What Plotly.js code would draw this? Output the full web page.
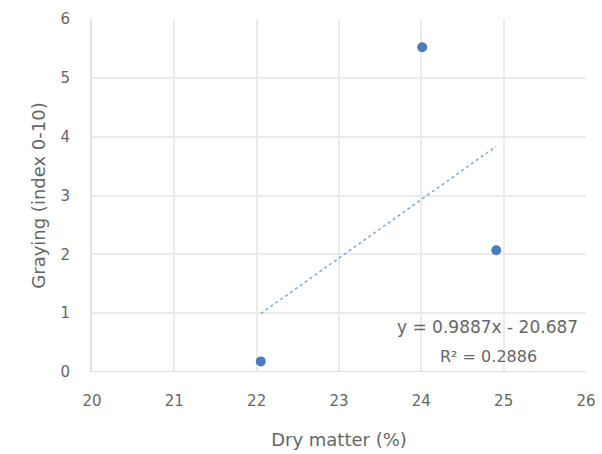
<!DOCTYPE html>
<html>
<head>
<meta charset="utf-8">
<script src="https://cdn.plot.ly/plotly-3.0.1.min.js"></script>
<style>html,body{margin:0;padding:0;background:#fff;}#chart{width:602px;height:454px;}</style>
</head>
<body>
<div id="chart"></div>
<script>
const dryMatter = [22.05, 24.01, 24.91];
const graying = [0.18, 5.52, 2.07];
const xTicks = [20, 21, 22, 23, 24, 25, 26];
const yTicks = [0, 1, 2, 3, 4, 5, 6];
const equationText = "y = 0.9887x - 20.687";
const r2Text = "R² = 0.2886";

// least-squares trendline from the data
const n = dryMatter.length;
const mx = dryMatter.reduce((a,b)=>a+b,0)/n;
const my = graying.reduce((a,b)=>a+b,0)/n;
let sxy=0, sxx=0;
for (let i=0;i<n;i++){ sxy+=(dryMatter[i]-mx)*(graying[i]-my); sxx+=(dryMatter[i]-mx)**2; }
const slope = sxy/sxx, icpt = my - slope*mx;
const xMin = Math.min(...dryMatter), xMax = Math.max(...dryMatter);
const trendX = [xMin, xMax];
const trendY = trendX.map(x => slope*x + icpt);

const fam = "DejaVu Sans, Liberation Sans, Arial, sans-serif";
const gray = "#666666";

Plotly.newPlot("chart", [
  {x: trendX, y: trendY, mode: "lines", type: "scatter",
   line: {color: "#7ea6d8", width: 1.5, dash: "dot"}, hoverinfo: "skip"},
  {x: dryMatter, y: graying, mode: "markers", type: "scatter",
   marker: {color: "#4a7ebb", size: 10, symbol: "circle"}}
], {
  width: 602, height: 454,
  margin: {l: 92, r: 16, t: 19, b: 82},
  showlegend: false,
  paper_bgcolor: "#fff", plot_bgcolor: "#fff",
  font: {family: fam, color: gray, size: 15},
  xaxis: {range: [20, 26], tickvals: xTicks, ticktext: xTicks.map(String),
    showgrid: true, gridcolor: "#ebebeb", gridwidth: 2, zeroline: false,
    showline: false, ticks: "", ticklabelstandoff: 18,
    tickfont: {family: fam, size: 15, color: gray},
    title: {text: "Dry matter (%)", font: {family: fam, size: 18, color: gray}, standoff: 24}},
  yaxis: {range: [0, 6], tickvals: yTicks, ticktext: yTicks.map(String),
    showgrid: true, gridcolor: "#ebebeb", gridwidth: 2, zeroline: false,
    showline: true, linecolor: "#e0e0e0", linewidth: 2, ticks: "", ticklabelstandoff: 17,
    tickfont: {family: fam, size: 15, color: gray},
    title: {text: "Graying (index 0-10)", font: {family: fam, size: 18, color: gray}, standoff: 10}},
  shapes: [{type: "line", xref: "paper", yref: "y", x0: 0, x1: 1, y0: 0, y1: 0,
    line: {color: "#dcdcdc", width: 2}}],
  annotations: [
    {xref: "x", yref: "y", x: 24.8, y: 0.77, text: equationText, showarrow: false,
     font: {family: fam, size: 17, color: gray}, xanchor: "center", yanchor: "middle"},
    {xref: "x", yref: "y", x: 24.82, y: 0.26, text: r2Text, showarrow: false,
     font: {family: fam, size: 16, color: gray}, xanchor: "center", yanchor: "middle"}
  ]
}, {displayModeBar: false, staticPlot: true});
</script>
</body>
</html>
